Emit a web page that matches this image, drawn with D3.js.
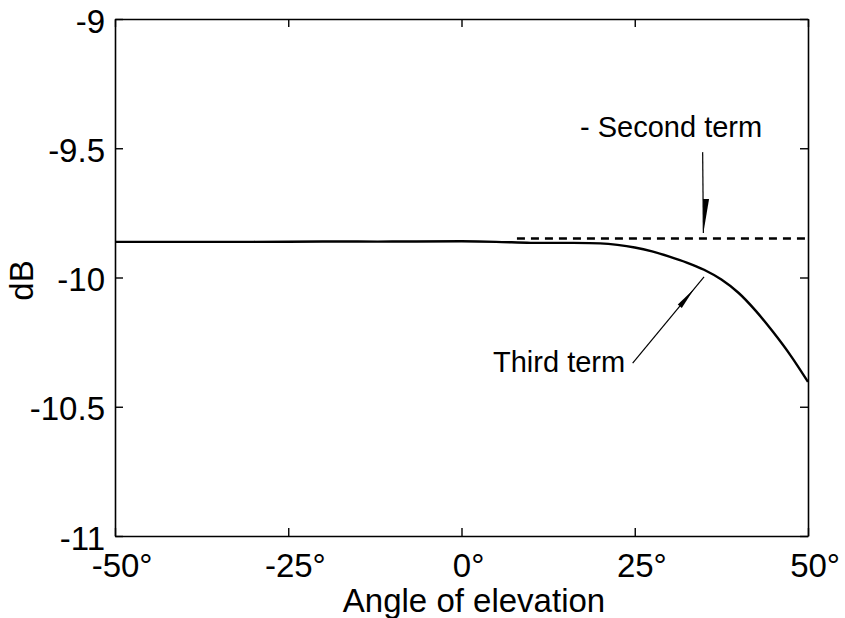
<!DOCTYPE html>
<html>
<head>
<meta charset="utf-8">
<script src="https://cdn.jsdelivr.net/npm/d3@7"></script>
<style>
  html, body { margin: 0; padding: 0; background: #fff; }
  svg { display: block; font-family: "Liberation Sans", Arial, Helvetica, sans-serif; }
</style>
</head>
<body>
<svg id="chart" width="845" height="618"></svg>
<script>
// Elevation angle (degrees) and level of the third-order term (dB)
const angles = [-50, -40, -30, -20, -10, 0, 5, 10, 15, 20, 22.5, 25, 27.5, 30, 32.5, 35, 37.5, 40, 42.5, 45, 47.5, 50];
const thirdTerm = [-9.862, -9.862, -9.862, -9.861, -9.861, -9.860, -9.862, -9.866, -9.866, -9.868, -9.874, -9.884, -9.899, -9.919, -9.942, -9.970, -10.008, -10.060, -10.130, -10.212, -10.302, -10.404];

// Second-order term: constant level, drawn dashed
const secondTermAngles = [8, 50];
const secondTermValue = -9.849;

// Axis ticks
const xTicks = [-50, -25, 0, 25, 50];
const yTicks = [-9, -9.5, -10, -10.5, -11];

// Labels
const xLabel = "Angle of elevation";
const yLabel = "dB";
const secondLabel = "- Second term";
const thirdLabel = "Third term";

const svg = d3.select("#chart");
const plot = { left: 115, right: 808, top: 19, bottom: 536 };

const x = d3.scaleLinear().domain([-50, 50]).range([plot.left, plot.right]);
const y = d3.scaleLinear().domain([-11, -9]).range([plot.bottom, plot.top]);

const axisFont = 33;

// Bottom axis with inward ticks; degree sign trails the centred number
const gx = svg.append("g")
  .attr("transform", `translate(0,${plot.bottom})`)
  .call(d3.axisBottom(x).tickValues(xTicks).tickSizeInner(-8).tickSizeOuter(0).tickPadding(18));
gx.selectAll(".tick text").each(function(d) {
  const t = d3.select(this);
  t.text(String(d)).attr("font-size", axisFont);
  const w = this.getComputedTextLength();
  t.attr("text-anchor", "start").attr("x", -w / 2);
  t.append("tspan").text("°");
});

// Left axis
const gy = svg.append("g")
  .attr("transform", `translate(${plot.left},0)`)
  .call(d3.axisLeft(y).tickValues(yTicks).tickSizeInner(-8).tickSizeOuter(0).tickPadding(10)
    .tickFormat(d => String(d)));
gy.selectAll(".tick text").attr("font-size", axisFont).attr("dy", "0.4em");

// Top and right axes: ticks only
svg.append("g")
  .attr("transform", `translate(0,${plot.top})`)
  .call(d3.axisTop(x).tickValues(xTicks).tickSizeInner(-8).tickSizeOuter(0).tickFormat(""));
svg.append("g")
  .attr("transform", `translate(${plot.right},0)`)
  .call(d3.axisRight(y).tickValues(yTicks).tickSizeInner(-8).tickSizeOuter(0).tickFormat(""));

svg.selectAll(".domain").attr("stroke", "#000").attr("stroke-width", 1.6);
svg.selectAll(".tick line").attr("stroke", "#000").attr("stroke-width", 1.4);
svg.selectAll(".tick text").attr("fill", "#000").attr("font-family", "\"Liberation Sans\", Arial, sans-serif");

// Axis titles
svg.append("text")
  .attr("x", 474).attr("y", 612)
  .attr("text-anchor", "middle")
  .attr("font-size", axisFont)
  .text(xLabel);
svg.append("text")
  .attr("transform", `translate(33,${(plot.top + plot.bottom) / 2 + 3}) rotate(-90)`)
  .attr("text-anchor", "middle")
  .attr("font-size", axisFont)
  .text(yLabel);

// Curves
const line = d3.line().x(d => x(d[0])).y(d => y(d[1]));

svg.append("path")
  .datum(secondTermAngles.map(a => [a, secondTermValue]))
  .attr("d", line)
  .attr("fill", "none")
  .attr("stroke", "#000")
  .attr("stroke-width", 2.6)
  .attr("stroke-dasharray", "8,6");

svg.append("path")
  .datum(angles.map((a, i) => [a, thirdTerm[i]]))
  .attr("d", d3.line().x(d => x(d[0])).y(d => y(d[1])).curve(d3.curveCatmullRom))
  .attr("fill", "none")
  .attr("stroke", "#000")
  .attr("stroke-width", 2.4)
  .attr("stroke-linejoin", "round");

// Annotation leaders with a slim arrowhead along the line
function leader(from, to, t0, t1, halfWidth, oneSided) {
  const p0 = [x(from[0]), y(from[1])];
  const p1 = [x(to[0]), y(to[1])];
  svg.append("line")
    .attr("x1", p0[0]).attr("y1", p0[1])
    .attr("x2", p1[0]).attr("y2", p1[1])
    .attr("stroke", "#000").attr("stroke-width", 1.2);
  const dx = p1[0] - p0[0], dy = p1[1] - p0[1];
  const len = Math.hypot(dx, dy);
  const nx = -dy / len, ny = dx / len;
  const b = [p0[0] + dx * t0, p0[1] + dy * t0];
  const tip = [p0[0] + dx * t1, p0[1] + dy * t1];
  const pts = oneSided
    ? [b, [b[0] - nx * halfWidth * 2, b[1] - ny * halfWidth * 2], tip]
    : [[b[0] + nx * halfWidth, b[1] + ny * halfWidth], tip, [b[0] - nx * halfWidth, b[1] - ny * halfWidth]];
  svg.append("polygon")
    .attr("points", pts.map(p => p.join(",")).join(" "))
    .attr("fill", "#000");
}

// "- Second term" pointer
leader([34.8, -9.515], [34.9, -9.828], 0.58, 1.0, 3, true);
// "Third term" pointer
leader([24.7, -10.331], [35.0, -9.998], 0.66, 0.86, 2.6, false);

svg.append("text")
  .attr("x", 580).attr("y", 137)
  .attr("font-size", 29)
  .text(secondLabel);
svg.append("text")
  .attr("x", 493).attr("y", 372)
  .attr("font-size", 29)
  .text(thirdLabel);
</script>
</body>
</html>
